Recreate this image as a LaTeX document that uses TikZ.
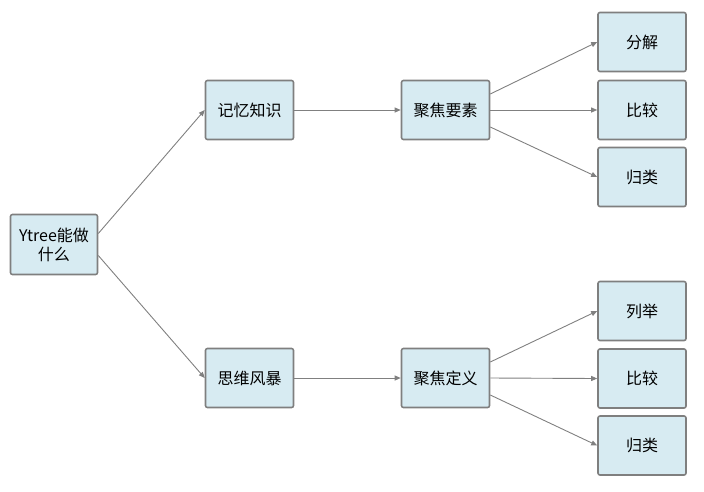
\documentclass[tikz,border=0pt]{standalone}
\usepackage{fontspec}
\setmainfont{Noto Sans CJK SC}
\usetikzlibrary{arrows.meta}
\definecolor{boxfill}{HTML}{D7EBF2}
\definecolor{boxline}{HTML}{7F7F7F}
\definecolor{edgecol}{HTML}{808080}
\begin{document}
\begin{tikzpicture}[x=1pt,y=-1pt,
  box/.style={draw=boxline,line width=1.6pt,fill=boxfill,rounded corners=2pt,
    minimum width=88pt,minimum height=59pt,inner sep=0pt,align=center,
    font=\fontsize{16}{19}\selectfont},
  rootbox/.style={box,minimum width=87pt,minimum height=60pt},
  edge/.style={draw=edgecol,line width=0.9pt,-{Triangle[length=6pt,width=5pt]}}]
\useasboundingbox (0,0) rectangle (704,491);
\node[rootbox] (root) at (54,244.5) {Ytree能做\\什么};
\node[box] (a) at (249.5,110) {记忆知识};
\node[box] (b) at (249.5,378) {思维风暴};
\node[box] (a1) at (445.5,110) {聚焦要素};
\node[box] (b1) at (445.5,378) {聚焦定义};
\node[box] (a11) at (642,42) {分解};
\node[box] (a12) at (642,110) {比较};
\node[box] (a13) at (642,177) {归类};
\node[box] (b11) at (642,311) {列举};
\node[box] (b12) at (642,378.5) {比较};
\node[box] (b13) at (642,445.5) {归类};
\draw[edge] ([yshift=11pt]root.east) -- (a.west);
\draw[edge] ([yshift=-11pt]root.east) -- (b.west);
\draw[edge] (a.east) -- (a1.west);
\draw[edge] (b.east) -- (b1.west);
\draw[edge] ([yshift=16pt]a1.east) -- (a11.west);
\draw[edge] (a1.east) -- (a12.west);
\draw[edge] ([yshift=-17pt]a1.east) -- (a13.west);
\draw[edge] ([yshift=16pt]b1.east) -- (b11.west);
\draw[edge] (b1.east) -- (b12.west);
\draw[edge] ([yshift=-17pt]b1.east) -- (b13.west);
\end{tikzpicture}
\end{document}
